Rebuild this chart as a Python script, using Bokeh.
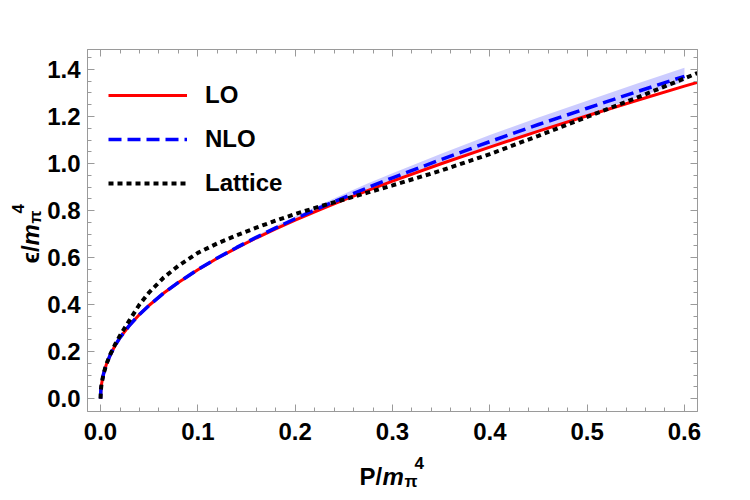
import math
from bokeh.plotting import figure
from bokeh.models import (Range1d, FixedTicker, LinearAxis, Legend, LegendItem,
                          ColumnDataSource)
from bokeh.core.properties import value
from bokeh.embed import file_html
from bokeh.resources import INLINE

# Pressure grid (units of m_pi^4) and energy densities for each curve
P_grid = [0, 0.0003, 0.001, 0.003, 0.006, 0.01, 0.015, 0.02, 0.03, 0.04, 0.05,
          0.065, 0.08, 0.1, 0.12, 0.14, 0.16, 0.18, 0.2, 0.225, 0.25, 0.275,
          0.3, 0.35, 0.4, 0.45, 0.5, 0.55, 0.6, 0.6134]
eps_LO = [0, 0.0335, 0.061, 0.104, 0.146, 0.186, 0.226, 0.259, 0.313, 0.358, 0.397,
          0.449, 0.494, 0.548, 0.597, 0.641, 0.683, 0.722, 0.759, 0.803, 0.845, 0.886,
          0.925, 0.999, 1.070, 1.138, 1.203, 1.267, 1.329, 1.345]
eps_lattice = [0, 0.0335, 0.061, 0.104, 0.147, 0.188, 0.231, 0.268, 0.335, 0.400, 0.452,
               0.515, 0.565, 0.620, 0.660, 0.695, 0.727, 0.757, 0.785, 0.817, 0.847, 0.877,
               0.907, 0.970, 1.040, 1.118, 1.198, 1.278, 1.362, 1.385]

# NLO curve and its uncertainty band stop at P = 0.6
P_nlo = P_grid[:-1]
eps_NLO = [0, 0.0335, 0.061, 0.104, 0.146, 0.186, 0.226, 0.259, 0.313, 0.358, 0.397,
           0.449, 0.494, 0.549, 0.598, 0.643, 0.686, 0.726, 0.765, 0.811, 0.855, 0.898,
           0.939, 1.017, 1.093, 1.166, 1.235, 1.304, 1.371]
band_low = [0, 0.0335, 0.061, 0.104, 0.146, 0.186, 0.226, 0.259, 0.313, 0.358, 0.397,
            0.448, 0.492, 0.546, 0.594, 0.638, 0.680, 0.719, 0.757, 0.801, 0.843, 0.884,
            0.923, 0.997, 1.069, 1.140, 1.208, 1.279, 1.349]
band_high = [0, 0.0335, 0.061, 0.104, 0.146, 0.186, 0.226, 0.259, 0.313, 0.358, 0.397,
             0.451, 0.497, 0.553, 0.603, 0.649, 0.693, 0.735, 0.775, 0.823, 0.870, 0.916,
             0.959, 1.041, 1.121, 1.196, 1.267, 1.338, 1.407]

x_ticks = [0.0, 0.1, 0.2, 0.3, 0.4, 0.5, 0.6]
x_tick_labels = ["0.0", "0.1", "0.2", "0.3", "0.4", "0.5", "0.6"]
y_ticks = [0.0, 0.2, 0.4, 0.6, 0.8, 1.0, 1.2, 1.4]
y_tick_labels = ["0.0", "0.2", "0.4", "0.6", "0.8", "1.0", "1.2", "1.4"]
x_minor = [round(0.02 * i, 2) for i in range(31)]
y_minor = [round(0.05 * i, 2) for i in range(30)]

FONT = "Liberation Sans"
FRAME_GRAY = "#9a9a9a"
X0, X1 = -0.0134, 0.6134
Y0, Y1 = -0.055, 1.485

p = figure(width=750, height=500, output_backend="svg", toolbar_location=None,
           x_range=Range1d(X0, X1), y_range=Range1d(Y0, Y1),
           min_border_left=87, min_border_right=53, min_border_top=49,
           min_border_bottom=89)
p.grid.visible = False
p.outline_line_color = FRAME_GRAY
p.background_fill_color = "white"
p.border_fill_color = "white"

# Uncertainty band of the NLO result
p.varea(x=P_nlo, y1=band_low, y2=band_high, fill_color="blue", fill_alpha=0.2)

r_lo = p.line(P_grid, eps_LO, line_color="red", line_width=3)
r_nlo = p.line(P_nlo, eps_NLO, line_color="blue", line_width=3.5, line_dash="13 6")
r_lat = p.line(P_grid, eps_lattice, line_color="black", line_width=4, line_dash="5 4")


def style_axis(ax, ticks, minor, labels):
    ax.ticker = FixedTicker(ticks=ticks, minor_ticks=minor)
    ax.major_label_overrides = {t: l for t, l in zip(ticks, labels)}
    ax.axis_line_color = FRAME_GRAY
    ax.major_tick_line_color = FRAME_GRAY
    ax.minor_tick_line_color = FRAME_GRAY
    ax.major_tick_in = 7
    ax.major_tick_out = 0
    ax.minor_tick_in = 4
    ax.minor_tick_out = 0
    ax.major_label_text_font = FONT
    ax.major_label_text_font_style = "bold"
    ax.major_label_text_font_size = "24px"
    ax.major_label_text_color = "black"


style_axis(p.xaxis[0], x_ticks, x_minor, x_tick_labels)
style_axis(p.yaxis[0], y_ticks, y_minor, y_tick_labels)
p.xaxis[0].major_label_standoff = 11
p.yaxis[0].major_label_standoff = 7

# Mirror axes on the top and right edges: ticks only
top = LinearAxis()
right = LinearAxis()
style_axis(top, x_ticks, x_minor, ["" for _ in x_ticks])
style_axis(right, y_ticks, y_minor, ["" for _ in y_ticks])
top.major_label_text_font_size = "0px"
right.major_label_text_font_size = "0px"
p.add_layout(top, "above")
p.add_layout(right, "right")

# Axis titles with sub/superscripts, built from pieces anchored at the
# lower-left corner of the frame and shifted by pixel offsets
ang = math.pi / 2
title_pieces = dict(
    text=["P/", "m", "π", "4", "ϵ/", "m", "π", "4"],
    dx=[272, 295, 317, 327, -57, -57, -52, -70],
    dy=[65, 65, 70, 51, -148, -166, -188, -198],
    size=["24px", "24px", "17px", "17px", "24px", "24px", "17px", "17px"],
    style=["bold", "bold italic", "bold", "bold", "bold", "bold italic", "bold", "bold"],
    angle=[0, 0, 0, 0, ang, ang, ang, ang],
)
title_pieces["x"] = [X0] * len(title_pieces["text"])
title_pieces["y"] = [Y0] * len(title_pieces["text"])
src = ColumnDataSource(title_pieces)
p.text(x="x", y="y", text="text", x_offset="dx", y_offset="dy", angle="angle",
       text_font=value(FONT), text_font_size="size", text_font_style="style",
       text_color="black", text_align="left", text_baseline="alphabetic",
       source=src, level="overlay")

legend = Legend(items=[LegendItem(label="LO", renderers=[r_lo]),
                       LegendItem(label="NLO", renderers=[r_nlo]),
                       LegendItem(label="Lattice", renderers=[r_lat])],
                location=(21, 213), orientation="vertical")
legend.padding = 0
legend.margin = 0
legend.spacing = 14
legend.glyph_width = 79
legend.glyph_height = 30
legend.label_height = 30
legend.label_standoff = 18
legend.label_text_font = FONT
legend.label_text_font_style = "bold"
legend.label_text_font_size = "24px"
legend.label_text_color = "black"
legend.border_line_alpha = 0
legend.background_fill_alpha = 0
p.add_layout(legend, "center")

open("out.html", "w").write(file_html(p, INLINE))
